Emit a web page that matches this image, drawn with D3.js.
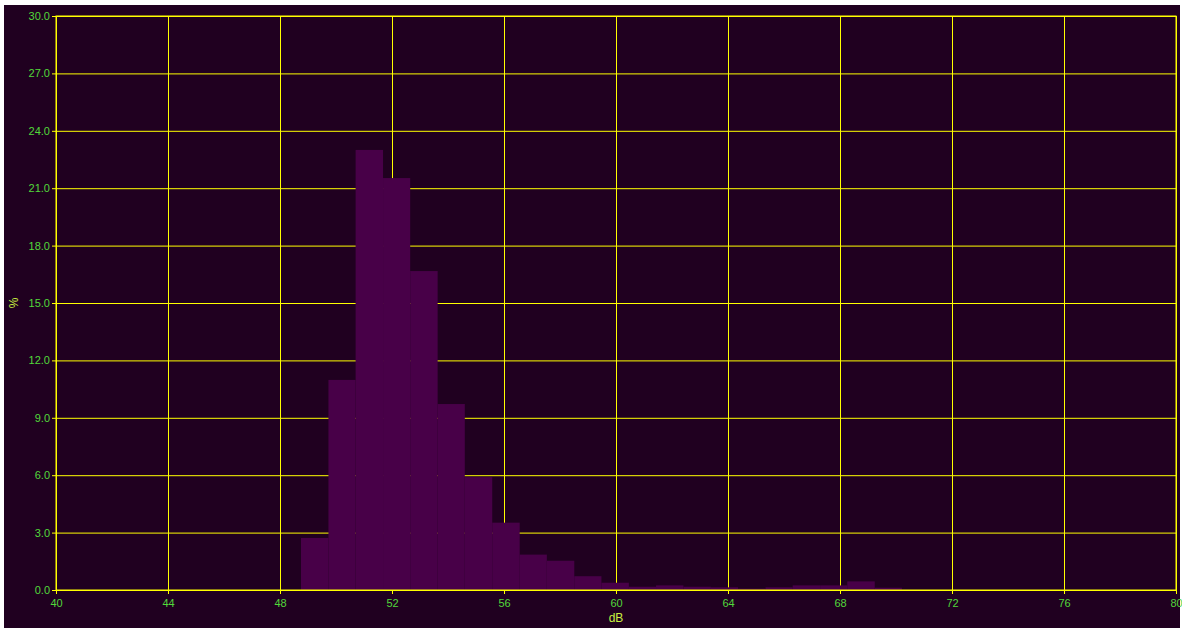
<!DOCTYPE html>
<html>
<head>
<meta charset="utf-8">
<script src="https://cdn.jsdelivr.net/npm/d3@7"></script>
<style>
  html, body { margin: 0; padding: 0; background: #ffffff; }
  svg { display: block; }
  text { font-family: "Liberation Sans", Arial, sans-serif; }
</style>
</head>
<body>
<svg id="chart" width="1182" height="629"></svg>
<script>
// Level histogram: share of samples (%) per dB bin
const binEdges = [48.75, 49.73, 50.70, 51.68, 52.65, 53.63, 54.60, 55.58, 56.56, 57.53,
                  58.51, 59.48, 60.46, 61.43, 62.41, 63.39, 64.36, 65.34, 66.31, 67.29,
                  68.26, 69.24, 70.21];
const percents = [2.72, 10.98, 23.0, 21.53, 16.67, 9.72, 5.9, 3.52, 1.85, 1.53,
                  0.72, 0.38, 0.17, 0.24, 0.17, 0.14, 0.07, 0.14, 0.24, 0.24,
                  0.45, 0.12];
const xTicks = [40, 44, 48, 52, 56, 60, 64, 68, 72, 76, 80];
const yTicks = [0, 3, 6, 9, 12, 15, 18, 21, 24, 27, 30];
const xTitle = "dB";
const yTitle = "%";

const svg = d3.select("#chart");
const W = 1182, H = 629;
const plot = { left: 56, right: 1176, top: 16, bottom: 590 };

const bg = "#200020", barColor = "#480048", grid = "#ffff00", labelColor = "#52d83a";

// panel background
svg.append("rect").attr("x", 4).attr("y", 5).attr("width", 1176).attr("height", 623).attr("fill", bg);

const x = d3.scaleLinear().domain([40, 80]).range([plot.left, plot.right]);
const y = d3.scaleLinear().domain([0, 30]).range([plot.bottom, plot.top]);

// grid lines (behind the bars)
const gx = svg.append("g").attr("transform", `translate(0,${plot.bottom})`)
  .call(d3.axisBottom(x).tickValues(xTicks).tickSize(-(plot.bottom - plot.top)).tickFormat(""));
const gy = svg.append("g").attr("transform", `translate(${plot.left},0)`)
  .call(d3.axisLeft(y).tickValues(yTicks).tickSize(-(plot.right - plot.left)).tickFormat(""));
[gx, gy].forEach(g => {
  g.select(".domain").remove();
  g.selectAll("line").attr("stroke", grid).attr("stroke-width", 1);
});

// histogram bars
const bins = percents.map((v, i) => ({ x0: binEdges[i], x1: binEdges[i + 1], v }));
svg.append("g").selectAll("rect").data(bins).join("rect")
  .attr("x", d => x(d.x0))
  .attr("width", d => x(d.x1) - x(d.x0))
  .attr("y", d => y(d.v))
  .attr("height", d => y(0) - y(d.v))
  .attr("fill", barColor);

// frame
svg.append("rect")
  .attr("x", plot.left).attr("y", plot.top)
  .attr("width", plot.right - plot.left).attr("height", plot.bottom - plot.top)
  .attr("fill", "none").attr("stroke", grid).attr("stroke-width", 1);

// axes with labels
const ax = svg.append("g").attr("transform", `translate(0,${plot.bottom})`)
  .call(d3.axisBottom(x).tickValues(xTicks).tickSize(4).tickPadding(5).tickFormat(d3.format("d")));
const ay = svg.append("g").attr("transform", `translate(${plot.left},0)`)
  .call(d3.axisLeft(y).tickValues(yTicks).tickSize(4).tickPadding(2).tickFormat(d3.format(".1f")));
[ax, ay].forEach(g => {
  g.select(".domain").remove();
  g.selectAll("line").attr("stroke", grid);
  g.selectAll("text").attr("fill", labelColor).style("font-size", "11px")
    .style("font-family", '"Liberation Sans", Arial, sans-serif');
});

// axis titles
svg.append("text")
  .attr("x", (plot.left + plot.right) / 2).attr("y", 622)
  .attr("text-anchor", "middle").attr("fill", "#c8f040")
  .style("font-size", "12px").text(xTitle);
svg.append("text")
  .attr("transform", `translate(18,${(plot.top + plot.bottom) / 2}) rotate(-90)`)
  .attr("text-anchor", "middle").attr("fill", "#c8f040")
  .style("font-size", "12px").text(yTitle);
</script>
</body>
</html>
